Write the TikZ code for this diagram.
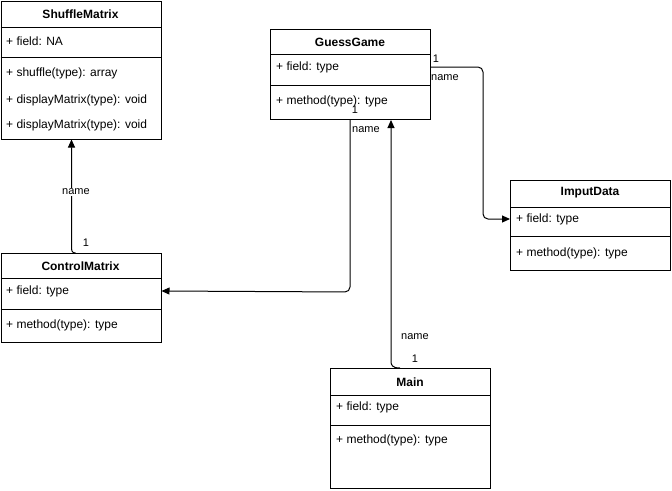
\documentclass[tikz,border=0pt]{standalone}
\usepackage{fontspec}
\setmainfont{Liberation Sans}
\usetikzlibrary{arrows.meta,calc}
\tikzset{
  box/.style={draw, line width=1pt, minimum width=160pt, anchor=north west, inner sep=0pt},
  sep/.style={line width=1pt},
  title/.style={font=\fontsize{12}{14}\selectfont\bfseries, inner sep=0pt},
  member/.style={font=\fontsize{12}{14}\selectfont, anchor=west, inner sep=0pt},
  lbl/.style={font=\fontsize{11}{13}\selectfont, inner sep=1pt},
  mult/.style={font=\fontsize{11}{13}\selectfont, inner sep=0pt},
  conn/.style={line width=1pt, -{Triangle[length=8pt,width=7pt]}, rounded corners=5pt}
}
\begin{document}
\begin{tikzpicture}[x=1pt,y=-1pt]
\useasboundingbox (0,0) rectangle (672,490);
% ShuffleMatrix
\node[box, minimum height=138pt] (sm) at (0.5,0.5) {};
\draw[sep] (0.5,27) -- (160.5,27);
\draw[sep] (0.5,57) -- (160.5,57);
\node[title] (smt) at (80.5,14) {ShuffleMatrix};
\node[member] (smf) at (6,41) {+ field: NA};
\node[member] (smm1) at (6,73) {+ shuffle(type): array};
\node[member] (smm2) at (6,100) {+ displayMatrix(type): void};
\node[member] (smm3) at (6,125) {+ displayMatrix(type): void};
% GuessGame
\node[box, minimum height=90pt] (gg) at (270,29) {};
\draw[sep] (270,54) -- (430,54);
\draw[sep] (270,85) -- (430,85);
\node[title] (ggt) at (350,42) {GuessGame};
\node[member] (ggf) at (276,67) {+ field: type};
\node[member] (ggm) at (276,101) {+ method(type): type};
% ControlMatrix
\node[box, minimum height=89pt] (cm) at (0.5,253) {};
\draw[sep] (0.5,278) -- (160.5,278);
\draw[sep] (0.5,309) -- (160.5,309);
\node[title] (cmt) at (80.5,266) {ControlMatrix};
\node[member] (cmf) at (6,291) {+ field: type};
\node[member] (cmm) at (6,325) {+ method(type): type};
% Main
\node[box, minimum height=120pt] (mn) at (330,368) {};
\draw[sep] (330,395) -- (490,395);
\draw[sep] (330,425) -- (490,425);
\node[title] (mnt) at (410,382) {Main};
\node[member] (mnf) at (336,407) {+ field: type};
\node[member] (mnm) at (336,440) {+ method(type): type};
% ImputData
\node[box, minimum height=90pt] (id) at (510,180) {};
\draw[sep] (510,207) -- (670,207);
\draw[sep] (510,236) -- (670,236);
\node[title] (idt) at (590,193) {ImputData};
\node[member] (idf) at (516,219) {+ field: type};
\node[member] (idm) at (516,253) {+ method(type): type};
% Connectors
\draw[line width=1pt, -{Triangle[length=8pt,width=7pt]}] ($(cm.north west)+(75,0)$) .. controls +(-4,0) and +(0,4) .. ++(-4,-7) -- ($(sm.south west)+(71,0)$);
\node[lbl, fill=white] (l1) at (76,192) {name};
\node[mult] (m1) at (86,243) {1};
\draw[conn] ($(gg.south west)+(80,0)$) -- ++(0,172) -- (cm.east |- cmf);
\node[lbl] (l2) at (366,130) {name};
\node[mult] (m2) at (355,110) {1};
\draw[line width=1pt, -{Triangle[length=8pt,width=7pt]}] ($(mn.north west)+(70,0)$) .. controls +(-8,0) and +(0,4) .. ++(-9,-7) -- ($(gg.south west)+(121,0)$);
\node[lbl] (l3) at (415,337) {name};
\node[mult] (m3) at (415,359) {1};
\draw[conn] (gg.east |- ggf) -- ++(52,0) -- ++(0,152) -- (id.west |- idf);
\node[mult] (m4) at (436,59) {1};
\node[lbl] (l4) at (445,78) {name};
\end{tikzpicture}
\end{document}
